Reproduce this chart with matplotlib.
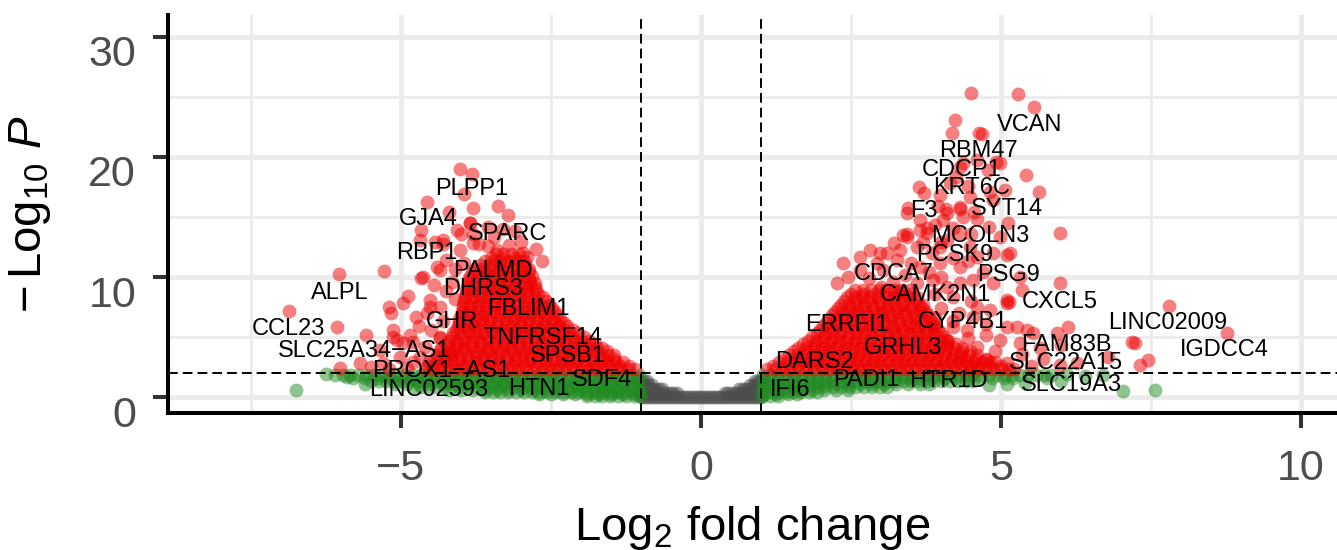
import matplotlib
matplotlib.use('Agg')
import matplotlib.pyplot as plt
import matplotlib.transforms as mtransforms

plt.rcParams['font.family'] = ['Liberation Sans', 'DejaVu Sans']
plt.rcParams['mathtext.fontset'] = 'custom'
plt.rcParams['mathtext.rm'] = 'Liberation Sans'
plt.rcParams['mathtext.it'] = 'Liberation Sans:italic'

# ---- data (log2 fold change, -log10 p) ----
# dense cores are stored row by row: (y, [x, x, ...])
red_left_rows = [
    (2.3, [-4.6, -4.47, -4.34, -4.21, -4.08, -3.95, -3.82, -3.69, -3.56, -3.43, -3.3, -3.17, -3.04, -2.91, -2.78,
           -2.65, -2.52, -2.39, -2.26, -2.13, -2.0, -1.87, -1.74, -1.61, -1.48, -1.35, -1.22, -1.1]),
    (2.6, [-4.55, -4.35, -4.15, -3.95, -3.75, -3.55, -3.35, -3.15, -2.95, -2.75, -2.55, -2.35, -2.15, -1.95,
           -1.75, -1.55, -1.35, -1.2]),
    (2.9, [-4.53, -4.4, -4.27, -4.14, -4.01, -3.88, -3.75, -3.62, -3.49, -3.36, -3.23, -3.1, -2.97, -2.84, -2.71,
           -2.58, -2.45, -2.32, -2.19, -2.06, -1.93, -1.8, -1.67, -1.54, -1.41, -1.3]),
    (3.2, [-4.45, -4.25, -4.05, -3.85, -3.65, -3.45, -3.25, -3.05, -2.85, -2.65, -2.45, -2.25, -2.05, -1.85,
           -1.65, -1.45]),
    (3.5, [-4.4, -4.27, -4.14, -4.01, -3.88, -3.75, -3.62, -3.49, -3.36, -3.23, -3.1, -2.97, -2.84, -2.71, -2.58,
           -2.45, -2.32, -2.19, -2.06, -1.93, -1.8, -1.67, -1.54, -1.45]),
    (3.8, [-4.35, -4.15, -3.95, -3.75, -3.55, -3.35, -3.15, -2.95, -2.75, -2.55, -2.35, -2.15, -1.95, -1.75,
           -1.57]),
    (4.1, [-4.33, -4.2, -4.07, -3.94, -3.81, -3.68, -3.55, -3.42, -3.29, -3.16, -3.03, -2.9, -2.77, -2.64, -2.51,
           -2.38, -2.25, -2.12, -1.99, -1.86, -1.73, -1.65]),
    (4.4, [-4.25, -4.05, -3.85, -3.65, -3.45, -3.25, -3.05, -2.85, -2.65, -2.45, -2.25, -2.05, -1.85, -1.76]),
    (4.7, [-4.2, -4.07, -3.94, -3.81, -3.68, -3.55, -3.42, -3.29, -3.16, -3.03, -2.9, -2.77, -2.64, -2.51, -2.38,
           -2.25, -2.12, -1.99, -1.86]),
    (5.0, [-4.15, -3.95, -3.75, -3.55, -3.35, -3.15, -2.95, -2.75, -2.55, -2.35, -2.15, -1.95]),
    (5.3, [-4.13, -4.0, -3.87, -3.74, -3.61, -3.48, -3.35, -3.22, -3.09, -2.96, -2.83, -2.7, -2.57, -2.44, -2.31,
           -2.18, -2.05]),
    (5.6, [-4.08, -3.88, -3.68, -3.48, -3.28, -3.08, -2.88, -2.68, -2.48, -2.28, -2.13]),
    (5.9, [-4.05, -3.92, -3.79, -3.66, -3.53, -3.4, -3.27, -3.14, -3.01, -2.88, -2.75, -2.62, -2.49, -2.36, -2.23]),
    (6.2, [-4.03, -3.83, -3.63, -3.43, -3.23, -3.03, -2.83, -2.63, -2.43, -2.28]),
    (6.5, [-4.03, -3.9, -3.77, -3.64, -3.51, -3.38, -3.25, -3.12, -2.99, -2.86, -2.73, -2.6, -2.47, -2.34]),
    (6.8, [-4.0, -3.8, -3.6, -3.4, -3.2, -3.0, -2.8, -2.6, -2.4]),
    (7.1, [-3.98, -3.85, -3.72, -3.59, -3.46, -3.33, -3.2, -3.07, -2.94, -2.81, -2.68, -2.55, -2.43]),
    (7.4, [-3.97, -3.77, -3.57, -3.37, -3.17, -2.97, -2.77, -2.57, -2.48]),
    (7.7, [-3.97, -3.84, -3.71, -3.58, -3.45, -3.32, -3.19, -3.06, -2.93, -2.8, -2.67, -2.53]),
    (8.0, [-3.95, -3.75, -3.55, -3.35, -3.15, -2.95, -2.75, -2.58]),
    (8.3, [-3.93, -3.8, -3.67, -3.54, -3.41, -3.28, -3.15, -3.02, -2.89, -2.76, -2.63]),
    (8.6, [-3.92, -3.72, -3.52, -3.32, -3.12, -2.92, -2.72]),
    (8.9, [-3.92, -3.79, -3.66, -3.53, -3.4, -3.27, -3.14, -3.01, -2.88, -2.75]),
    (9.2, [-3.9, -3.7, -3.5, -3.3, -3.1, -2.9, -2.77]),
    (9.5, [-3.88, -3.75, -3.62, -3.49, -3.36, -3.23, -3.1, -2.97, -2.84, -2.77]),
    (9.8, [-3.86, -3.66, -3.46, -3.26, -3.06, -2.86]),
    (10.1, [-3.85, -3.72, -3.59, -3.46, -3.33, -3.2, -3.07, -2.94, -2.82]),
    (10.4, [-3.8, -3.6, -3.4, -3.2, -3.0, -2.86]),
    (10.7, [-3.76, -3.63, -3.5, -3.37, -3.24, -3.11, -2.98, -2.87]),
    (11.0, [-3.68, -3.48, -3.28, -3.08, -2.93]),
    (11.3, [-3.6, -3.47, -3.34, -3.21, -3.08, -2.95]),
    (11.6, [-3.5, -3.3, -3.1]),
    (11.9, [-3.42, -3.29, -3.16, -3.03]),
]

red_right_rows = [
    (2.3, [1.1, 1.23, 1.36, 1.49, 1.62, 1.75, 1.88, 2.01, 2.14, 2.27, 2.4, 2.53, 2.66, 2.79, 2.92, 3.05, 3.18,
           3.31, 3.44, 3.57, 3.7, 3.83, 3.96, 4.09, 4.22, 4.35, 4.48, 4.61, 4.74, 4.87, 5.0, 5.13, 5.22]),
    (2.6, [1.2, 1.4, 1.6, 1.8, 2.0, 2.2, 2.4, 2.6, 2.8, 3.0, 3.2, 3.4, 3.6, 3.8, 4.0, 4.2, 4.4, 4.6, 4.8, 5.0]),
    (2.9, [1.3, 1.43, 1.56, 1.69, 1.82, 1.95, 2.08, 2.21, 2.34, 2.47, 2.6, 2.73, 2.86, 2.99, 3.12, 3.25, 3.38,
           3.51, 3.64, 3.77, 3.9, 4.03, 4.16, 4.29, 4.42, 4.55, 4.68, 4.81, 4.9]),
    (3.2, [1.38, 1.58, 1.78, 1.98, 2.18, 2.38, 2.58, 2.78, 2.98, 3.18, 3.38, 3.58, 3.78, 3.98, 4.18, 4.38, 4.58,
           4.75]),
    (3.5, [1.47, 1.6, 1.73, 1.86, 1.99, 2.12, 2.25, 2.38, 2.51, 2.64, 2.77, 2.9, 3.03, 3.16, 3.29, 3.42, 3.55,
           3.68, 3.81, 3.94, 4.07, 4.2, 4.33, 4.46, 4.6]),
    (3.8, [1.55, 1.75, 1.95, 2.15, 2.35, 2.55, 2.75, 2.95, 3.15, 3.35, 3.55, 3.75, 3.95, 4.15, 4.35, 4.48]),
    (4.1, [1.62, 1.75, 1.88, 2.01, 2.14, 2.27, 2.4, 2.53, 2.66, 2.79, 2.92, 3.05, 3.18, 3.31, 3.44, 3.57, 3.7,
           3.83, 3.96, 4.09, 4.22, 4.35]),
    (4.4, [1.7, 1.9, 2.1, 2.3, 2.5, 2.7, 2.9, 3.1, 3.3, 3.5, 3.7, 3.9, 4.1, 4.25]),
    (4.7, [1.78, 1.91, 2.04, 2.17, 2.3, 2.43, 2.56, 2.69, 2.82, 2.95, 3.08, 3.21, 3.34, 3.47, 3.6, 3.73, 3.86,
           3.99, 4.12]),
    (5.0, [1.85, 2.05, 2.25, 2.45, 2.65, 2.85, 3.05, 3.25, 3.45, 3.65, 3.85, 4.05]),
    (5.3, [1.93, 2.06, 2.19, 2.32, 2.45, 2.58, 2.71, 2.84, 2.97, 3.1, 3.23, 3.36, 3.49, 3.62, 3.75, 3.88, 4.0]),
    (5.6, [1.98, 2.18, 2.38, 2.58, 2.78, 2.98, 3.18, 3.38, 3.58, 3.78, 3.95]),
    (5.9, [2.03, 2.16, 2.29, 2.42, 2.55, 2.68, 2.81, 2.94, 3.07, 3.2, 3.33, 3.46, 3.59, 3.72, 3.85, 3.9]),
    (6.2, [2.08, 2.28, 2.48, 2.68, 2.88, 3.08, 3.28, 3.48, 3.68, 3.86]),
    (6.5, [2.13, 2.26, 2.39, 2.52, 2.65, 2.78, 2.91, 3.04, 3.17, 3.3, 3.43, 3.56, 3.69, 3.82]),
    (6.8, [2.18, 2.38, 2.58, 2.78, 2.98, 3.18, 3.38, 3.58, 3.78]),
    (7.1, [2.23, 2.36, 2.49, 2.62, 2.75, 2.88, 3.01, 3.14, 3.27, 3.4, 3.53, 3.66, 3.75]),
    (7.4, [2.28, 2.48, 2.68, 2.88, 3.08, 3.28, 3.48, 3.68]),
    (7.7, [2.33, 2.46, 2.59, 2.72, 2.85, 2.98, 3.11, 3.24, 3.37, 3.5, 3.63, 3.7]),
    (8.0, [2.38, 2.58, 2.78, 2.98, 3.18, 3.38, 3.58]),
    (8.3, [2.43, 2.56, 2.69, 2.82, 2.95, 3.08, 3.21, 3.34, 3.47, 3.6]),
    (8.6, [2.5, 2.7, 2.9, 3.1, 3.3, 3.5]),
    (8.9, [2.57, 2.7, 2.83, 2.96, 3.09, 3.22, 3.35, 3.48]),
]

# scattered significant genes outside the dense cores
red_left_pts = [
    (-4.02, 18.98), (-3.81, 18.58), (-4.56, 16.28), (-3.8, 15.73), (-3.38, 15.92), (-3.21, 15.17), (-3.85, 14.5),
    (-4.66, 13.9), (-4.43, 12.94), (-4.68, 13.08), (-4.3, 12.72), (-6.03, 10.25), (-5.28, 10.53), (-4.4, 10.86),
    (-4.66, 9.89), (-4.88, 8.42), (-4.96, 7.81), (-5.2, 7.48), (-5.16, 6.98), (-6.87, 7.17), (-6.06, 5.86),
    (-4.74, 6.69), (-4.52, 7.53), (-5.58, 5.17), (-5.13, 5.03), (-4.96, 4.48), (-4.35, 5.03), (-6.02, 2.39),
    (-2.9, 11.7), (-4.07, 13.9), (-4.3, 13.08), (-4.02, 12.25), (-3.8, 13.6), (-3.7, 12.75), (-4.57, 6.97),
    (-4.35, 7.53), (-5.13, 5.58), (-5.07, 4.75), (-4.8, 4.6), (-4.85, 5.2), (-4.35, 4.89), (-5.35, 3.92),
    (-5.68, 2.83), (-5.3, 2.83), (-5.02, 3.36), (-4.6, 4.2), (-4.68, 3.36), (-4.18, 3.64), (-4.52, 8.08),
    (-4.63, 10.03), (-4.35, 10.58), (-4.24, 11.42), (-2.96, 11.97), (-3.4, 12.25), (-3.8, 12.8), (-3.85, 14.47),
    (-4.0, 13.6), (-3.55, 12.6), (-3.2, 12.7), (-3.0, 12.9), (-2.75, 12.3), (-3.55, 14.2), (-3.3, 14.0),
    (-3.1, 13.8), (-3.45, 13.3), (-2.65, 11.3), (-4.15, 9.6), (-4.25, 8.8), (-4.45, 9.3), (-4.1, 8.2),
    (-4.3, 6.3), (-4.5, 5.6), (-4.7, 5.9), (-4.9, 2.4), (-5.2, 2.3), (-5.5, 2.5), (-4.8, 2.9), (-3.95, 11.2),
    (-4.1, 10.7), (-3.95, 16.9), (-4.2, 15.4),
]

red_right_pts = [
    (4.5, 25.3), (5.29, 25.25), (5.55, 24.2), (4.24, 23.1), (4.19, 22.0), (4.64, 22.0), (4.69, 21.9),
    (5.41, 18.5), (5.63, 17.1), (5.98, 13.7), (5.99, 9.47), (7.8, 7.6), (8.76, 5.36), (7.23, 4.47),
    (7.45, 3.08), (7.32, 2.67), (6.12, 5.86), (5.93, 5.3), (5.13, 7.9), (5.35, 8.9), (5.1, 11.8), (4.91, 19.6),
    (4.37, 19.5), (3.63, 17.5), (3.45, 15.75), (5.12, 14.5), (3.37, 13.5), (5.07, 17.25), (4.78, 18.9),
    (5.98, 2.67), (6.26, 2.8), (6.78, 3.36), (7.18, 4.6), (5.26, 5.86), (5.1, 7.8), (4.6, 19.75), (4.98, 19.5),
    (4.32, 19.2), (3.71, 16.97), (3.98, 16.8), (4.15, 17.8), (4.48, 16.7), (4.82, 17.1), (4.87, 16.4),
    (4.09, 15.7), (4.32, 15.7), (4.37, 15.0), (4.04, 14.75), (3.76, 14.06), (3.43, 13.6), (3.21, 12.8),
    (2.98, 11.97), (3.65, 13.9), (5.15, 11.97), (4.87, 11.97), (4.48, 12.5), (3.98, 12.5), (3.43, 13.36),
    (3.32, 12.25), (3.6, 12.5), (3.1, 11.97), (2.93, 11.14), (3.26, 11.42), (3.65, 10.86), (3.98, 11.14),
    (4.32, 10.86), (4.6, 11.7), (4.98, 13.36), (5.32, 10.03), (4.54, 9.75), (4.32, 9.47), (4.87, 9.47),
    (5.1, 8.08), (4.82, 7.25), (5.1, 5.86), (5.43, 5.58), (4.98, 4.75), (5.32, 4.47), (5.54, 5.3), (4.6, 4.2),
    (4.32, 3.36), (4.76, 3.08), (5.1, 2.8), (4.1, 4.75), (4.2, 5.86), (4.43, 5.58), (4.54, 6.69), (3.87, 9.75),
    (4.1, 9.19), (3.6, 9.47), (2.82, 12.25), (2.65, 11.7), (2.37, 11.14), (2.65, 10.58), (3.04, 10.58),
    (2.26, 9.47), (4.32, 13.64), (4.1, 13.08), (3.76, 13.64), (3.43, 15.3), (4.1, 15.3), (4.32, 15.86),
    (3.65, 14.75), (3.2, 9.6), (3.4, 10.2), (3.8, 10.4), (4.0, 10.0), (4.2, 11.6), (3.5, 11.2), (3.85, 12.0),
    (4.45, 11.3), (4.7, 10.4), (4.0, 12.9), (3.7, 12.9), (2.45, 10.0), (2.8, 9.9), (3.0, 9.2), (3.3, 8.8),
    (3.9, 8.6), (4.2, 8.3), (4.5, 8.0), (4.0, 7.4), (4.3, 7.0), (4.6, 7.5), (3.9, 6.6), (4.2, 6.3), (4.75, 6.1),
    (4.45, 4.9), (4.75, 5.2), (4.9, 3.8), (5.35, 3.6), (5.5, 2.6), (5.7, 3.2), (4.5, 2.6), (5.65, 4.1),
    (6.0, 4.3), (4.8, 14.2), (4.6, 14.8), (4.5, 13.6), (3.9, 14.3), (4.2, 14.1), (3.95, 15.9), (4.55, 15.4),
    (4.45, 17.6), (4.25, 18.3),
]

green_rows = [
    (1.85, [-6.1, -5.97, -5.84, -5.71, -5.58, -5.45, -5.32, -5.19, -5.06, -4.93, -4.8, -4.67, -4.54, -4.41, -4.28,
            -4.15, -4.02, -3.89, -3.76, -3.63, -3.5, -3.37, -3.24, -3.11, -2.98, -2.85, -2.72, -2.59, -2.46, -2.33,
            -2.2, -2.07, -1.94, -1.81, -1.68, -1.55, -1.42, -1.29, -1.16, -1.03,
            1.03, 1.16, 1.29, 1.42, 1.55, 1.68, 1.81, 1.94, 2.07, 2.2, 2.33, 2.46, 2.59, 2.72, 2.85, 2.98, 3.11,
            3.24, 3.37, 3.5, 3.63, 3.76, 3.89, 4.02, 4.15, 4.28, 4.41, 4.54, 4.67, 4.8, 4.93, 5.06, 5.19, 5.32,
            5.45, 5.58, 5.71, 5.84]),
    (1.6, [-5.8, -5.6, -5.4, -5.2, -5.0, -4.8, -4.6, -4.4, -4.2, -4.0, -3.8, -3.6, -3.4, -3.2, -3.0, -2.8, -2.6,
           -2.4, -2.2, -2.0, -1.8, -1.6, -1.4, -1.2, -1.05,
           1.05, 1.25, 1.45, 1.65, 1.85, 2.05, 2.25, 2.45, 2.65, 2.85, 3.05, 3.25, 3.45, 3.65, 3.85, 4.05, 4.25,
           4.45, 4.65, 4.85, 5.05, 5.2]),
    (1.35, [-5.5, -5.37, -5.24, -5.11, -4.98, -4.85, -4.72, -4.59, -4.46, -4.33, -4.2, -4.07, -3.94, -3.81, -3.68,
            -3.55, -3.42, -3.29, -3.16, -3.03, -2.9, -2.77, -2.64, -2.51, -2.38, -2.25, -2.12, -1.99, -1.86, -1.73,
            -1.6, -1.47, -1.34, -1.21, -1.08,
            1.03, 1.16, 1.29, 1.42, 1.55, 1.68, 1.81, 1.94, 2.07, 2.2, 2.33, 2.46, 2.59, 2.72, 2.85, 2.98, 3.11,
            3.24, 3.37, 3.5, 3.63, 3.76, 3.89, 4.02, 4.15, 4.28, 4.41, 4.54]),
    (1.1, [-5.1, -4.9, -4.7, -4.5, -4.3, -4.1, -3.9, -3.7, -3.5, -3.3, -3.1, -2.9, -2.7, -2.5, -2.3, -2.1, -1.9,
           -1.7, -1.5, -1.3, -1.1,
           1.05, 1.25, 1.45, 1.65, 1.85, 2.05, 2.25, 2.45, 2.65, 2.85, 3.05, 3.25, 3.45, 3.65, 3.8]),
    (0.85, [-4.8, -4.67, -4.54, -4.41, -4.28, -4.15, -4.02, -3.89, -3.76, -3.63, -3.5, -3.37, -3.24, -3.11, -2.98,
            -2.85, -2.72, -2.59, -2.46, -2.33, -2.2, -2.07, -1.94, -1.81, -1.68, -1.55, -1.42, -1.29, -1.16, -1.03,
            1.03, 1.16, 1.29, 1.42, 1.55, 1.68, 1.81, 1.94, 2.07, 2.2, 2.33, 2.46, 2.59, 2.72, 2.85, 2.98, 3.1]),
    (0.62, [-4.2, -4.0, -3.8, -3.6, -3.4, -3.2, -3.0, -2.8, -2.6, -2.4, -2.2, -2.0, -1.8, -1.6, -1.4, -1.2, -1.05,
            1.05, 1.25, 1.45, 1.65, 1.85, 2.05, 2.25, 2.45]),
    (0.4, [-3.6, -3.47, -3.34, -3.21, -3.08, -2.95, -2.82, -2.69, -2.56, -2.43, -2.3, -2.17, -2.04, -1.91, -1.78,
           -1.65, -1.52, -1.39, -1.26, -1.13, -1.02,
           1.02, 1.15, 1.28, 1.41, 1.54, 1.67, 1.8, 1.93]),
    (0.22, [-2.7, -2.5, -2.3, -2.1, -1.9, -1.7, -1.5, -1.3, -1.1, 1.05, 1.25, 1.45, 1.6]),
    (0.05, [-1.9, -1.77, -1.64, -1.51, -1.38, -1.25, -1.12, -1.02, 1.02, 1.15, 1.28]),
]

green_pts = [
    (-6.74, 0.6), (-5.9, 1.65), (-6.25, 1.9), (-5.6, 1.1), (7.03, 0.5), (7.57, 0.6), (5.76, 1.56), (6.1, 1.9),
    (6.4, 1.75), (6.0, 1.3), (5.4, 1.2), (5.1, 1.1), (4.8, 1.0), (6.7, 1.85),
]

grey_rows = [
    (0.0, [-1.0, -0.95, -0.9, -0.85, -0.8, -0.75, -0.7, -0.65, -0.6, -0.55, -0.5, -0.45, -0.4, -0.35, -0.3,
           -0.25, -0.2, -0.15, -0.1, -0.05, 0.0, 0.05, 0.1, 0.15, 0.2, 0.25, 0.3, 0.35, 0.4, 0.45, 0.5, 0.55,
           0.6, 0.65, 0.7, 0.75, 0.8, 0.85, 0.9, 0.95, 1.0]),
    (0.3, [-1.0, -0.94, -0.88, -0.82, -0.76, -0.7, -0.64, -0.58, -0.52, -0.46, -0.4,
           0.4, 0.46, 0.52, 0.58, 0.64, 0.7, 0.76, 0.82, 0.88, 0.94, 1.0]),
    (0.65, [-1.0, -0.94, -0.88, -0.82, -0.76, -0.7, -0.64, 0.64, 0.7, 0.76, 0.82, 0.88, 0.94, 1.0]),
    (1.0, [-1.0, -0.94, -0.88, -0.82, 0.82, 0.88, 0.94, 1.0]),
    (1.35, [-1.0, -0.95, -0.9, 0.9, 0.95, 1.0]),
]

gene_names = ['PLPP1', 'GJA4', 'SPARC', 'RBP1', 'PALMD', 'DHRS3', 'ALPL', 'FBLIM1', 'GHR', 'CCL23',
              'TNFRSF14', 'SLC25A34\u2212AS1', 'SPSB1', 'PROX1\u2212AS1', 'SDF4', 'LINC02593', 'HTN1',
              'VCAN', 'RBM47', 'CDCP1', 'KRT6C', 'F3', 'SYT14', 'MCOLN3', 'PCSK9', 'CDCA7', 'PSG9',
              'CAMK2N1', 'CXCL5', 'CYP4B1', 'ERRFI1', 'LINC02009', 'FAM83B', 'IGDCC4', 'GRHL3',
              'SLC22A15', 'DARS2', 'PADI1', 'HTR1D', 'IFI6', 'SLC19A3']
gene_x = [-3.82, -4.55, -3.22, -4.57, -3.46, -3.63, -6.02, -2.88, -4.14, -6.87,
          -2.63, -5.61, -2.21, -4.32, -1.64, -4.54, -2.7,
          5.48, 4.62, 4.35, 4.51, 3.71, 5.1, 4.65, 4.23, 3.21, 5.12,
          3.9, 5.98, 4.37, 2.43, 7.78, 6.09, 8.73, 3.37,
          6.09, 1.9, 2.76, 4.12, 1.48, 6.18]
gene_y = [17.3, 14.8, 13.6, 12.0, 10.5, 9.0, 8.7, 7.3, 6.25, 5.67,
          4.9, 3.8, 3.38, 2.2, 1.45, 0.55, 0.66,
          22.67, 20.5, 18.9, 17.4, 15.5, 15.7, 13.4, 11.83, 10.25, 10.17,
          8.5, 7.94, 6.28, 6.0, 6.15, 4.33, 3.92, 4.06,
          2.8, 2.94, 1.42, 1.3, 0.58, 1.0]

xtick_vals = [-5, 0, 5, 10]
xtick_labels = ['\u22125', '0', '5', '10']
ytick_vals = [0, 10, 20, 30]
ytick_labels = ['0', '10', '20', '30']


def expand_rows(rows):
    xs, ys = [], []
    for y, row in rows:
        for x in row:
            xs.append(x)
            ys.append(y)
    return xs, ys


def split_pts(pts):
    return [p[0] for p in pts], [p[1] for p in pts]


fig = plt.figure(figsize=(13.37, 5.5), dpi=100)
ax = fig.add_axes([168 / 1337, 137 / 550, 1169 / 1337, 398 / 550])

ax.set_xlim(-8.88, 10.6)
ax.set_ylim(-1.33, 31.83)

# grid, major + minor
ax.set_xticks([-7.5, -2.5, 2.5, 7.5], minor=True)
ax.set_yticks([5, 15, 25], minor=True)
ax.grid(which='major', color='#EBEBEB', linewidth=3.4)
ax.grid(which='minor', color='#EBEBEB', linewidth=2.0)
ax.set_axisbelow(True)

msize = 100
gx, gy = expand_rows(grey_rows)
ax.scatter(gx, gy, s=msize, c='#4D4D4D', alpha=0.5, linewidths=0, zorder=2)

gx, gy = expand_rows(green_rows)
px, py = split_pts(green_pts)
ax.scatter(gx + px, gy + py, s=msize, c='#228B22', alpha=0.5, linewidths=0, zorder=2)

rx, ry = expand_rows(red_left_rows + red_right_rows)
px, py = split_pts(red_left_pts + red_right_pts)
ax.scatter(rx + px, ry + py, s=msize, c='#EE0000', alpha=0.5, linewidths=0, zorder=2)

# cut-offs
dash = (0, (5, 2.6))
ax.axvline(-1, color='black', linestyle=dash, linewidth=1.4, zorder=3)
ax.axvline(1, color='black', linestyle=dash, linewidth=1.4, zorder=3)
ax.axhline(2, color='black', linestyle=dash, linewidth=1.4, zorder=3)

for name, x, y in zip(gene_names, gene_x, gene_y):
    ax.text(x, y, name, fontsize=17, ha='center', va='center', color='black', zorder=4)

# axes look
for side in ['top', 'right']:
    ax.spines[side].set_visible(False)
for side in ['left', 'bottom']:
    ax.spines[side].set_linewidth(2.9)
    ax.spines[side].set_color('black')
    ax.spines[side].set_capstyle('projecting')

ax.set_xticks(xtick_vals)
ax.set_xticklabels(xtick_labels)
ax.set_yticks(ytick_vals)
ax.set_yticklabels(ytick_labels)
ax.tick_params(which='major', length=11, width=2.9, color='#333333', labelsize=31, labelcolor='#4D4D4D')
ax.tick_params(axis='x', which='major', pad=15)
ax.tick_params(axis='y', which='major', pad=12)
ax.tick_params(which='minor', length=0)

off = mtransforms.ScaledTranslation(0, -0.14, fig.dpi_scale_trans)
for lab in ax.get_yticklabels():
    lab.set_transform(lab.get_transform() + off)

ax.set_xlabel('Log$_2$ fold change', fontsize=34, va='center')
ax.xaxis.set_label_coords(0.5, -0.288)
ax.set_ylabel('$-\\,$Log$_{10}$ $\\mathit{P}$', fontsize=34, va='center')
ax.yaxis.set_label_coords(-0.118, 0.5)

fig.savefig('out.png', dpi=100)
